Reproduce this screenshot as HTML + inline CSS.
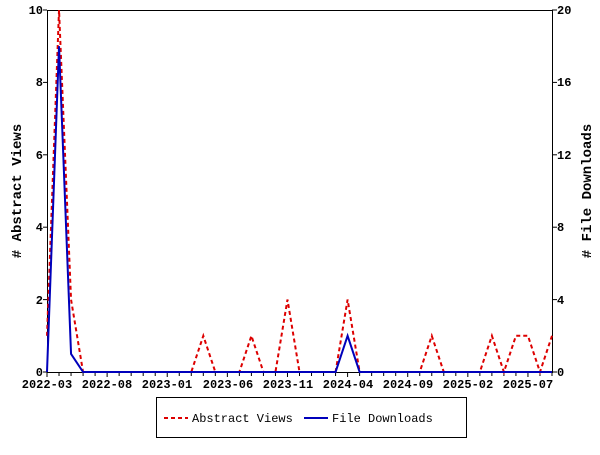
<!DOCTYPE html><html><head><style>body{margin:0;background:#fff}svg{font-family:"Liberation Mono","DejaVu Sans Mono",monospace}</style></head><body>
<svg width="600" height="450" xmlns="http://www.w3.org/2000/svg">
<rect width="600" height="450" fill="#fff"/>
<g id="ticks" stroke="#000" stroke-width="1"></g>
<rect x="47.5" y="10.5" width="505" height="362" fill="none" stroke="#000"/>
<g font-size="12" font-weight="bold" text-anchor="end">
<text x="43" y="376">0</text><text x="43" y="304">2</text><text x="43" y="231">4</text><text x="43" y="159">6</text><text x="43" y="86">8</text><text x="43" y="14">10</text>
</g>
<g font-size="12" font-weight="bold" text-anchor="start">
<text x="557" y="376">0</text><text x="557" y="304">4</text><text x="557" y="231">8</text><text x="557" y="159">12</text><text x="557" y="86">16</text><text x="557" y="14">20</text>
</g>
<g font-size="12" font-weight="bold" text-anchor="middle">
<text x="47" y="388">2022-03</text><text x="107" y="388">2022-08</text><text x="167" y="388">2023-01</text><text x="228" y="388">2023-06</text><text x="288" y="388">2023-11</text><text x="348" y="388">2024-04</text><text x="408" y="388">2024-09</text><text x="468" y="388">2025-02</text><text x="528" y="388">2025-07</text>
</g>
<text transform="translate(21,191) rotate(-90)" font-size="14" font-weight="bold" text-anchor="middle">#&#160;Abstract&#160;Views</text>
<text transform="translate(591,191) rotate(-90)" font-size="14" font-weight="bold" text-anchor="middle">#&#160;File&#160;Downloads</text>
<polyline id="av" fill="none" stroke="#dd0000" stroke-width="2" stroke-dasharray="4,3"/>
<polyline id="dl" fill="none" stroke="#0000bb" stroke-width="2"/>
<rect x="156.5" y="397.5" width="310" height="40" fill="#fff" stroke="#000"/>
<line x1="164" y1="418" x2="188" y2="418" stroke="#dd0000" stroke-width="2" stroke-dasharray="4,3"/>
<text x="192" y="422" font-size="12">Abstract Views</text>
<line x1="304" y1="418" x2="328" y2="418" stroke="#0000bb" stroke-width="2"/>
<text x="332" y="422" font-size="12">File Downloads</text>
</svg>
<script>
var X=m=>47+m*505/42;
var v=new Array(43).fill(0);v[0]=1;v[1]=10;v[2]=2;v[13]=1;v[17]=1;v[20]=2;v[25]=2;v[32]=1;v[37]=1;v[39]=1;v[40]=1;v[42]=1;
var d=new Array(43).fill(0);d[1]=18;d[2]=1;d[25]=2;
document.getElementById('av').setAttribute('points',v.map((a,i)=>X(i)+','+(372-36.2*a)).join(' '));
document.getElementById('dl').setAttribute('points',d.map((a,i)=>X(i)+','+(372-18.1*a)).join(' '));
var t='';for(var i=0;i<=42;i++){t+='<line x1="'+X(i)+'" y1="372" x2="'+X(i)+'" y2="'+(i%5==0?377:376)+'"/>';}
for(var j=0;j<=5;j++){var y=372-72.4*j;t+='<line x1="43" y1="'+y+'" x2="47" y2="'+y+'"/><line x1="552" y1="'+y+'" x2="557" y2="'+y+'"/>';}
document.getElementById('ticks').innerHTML=t;
</script>
</body></html>
